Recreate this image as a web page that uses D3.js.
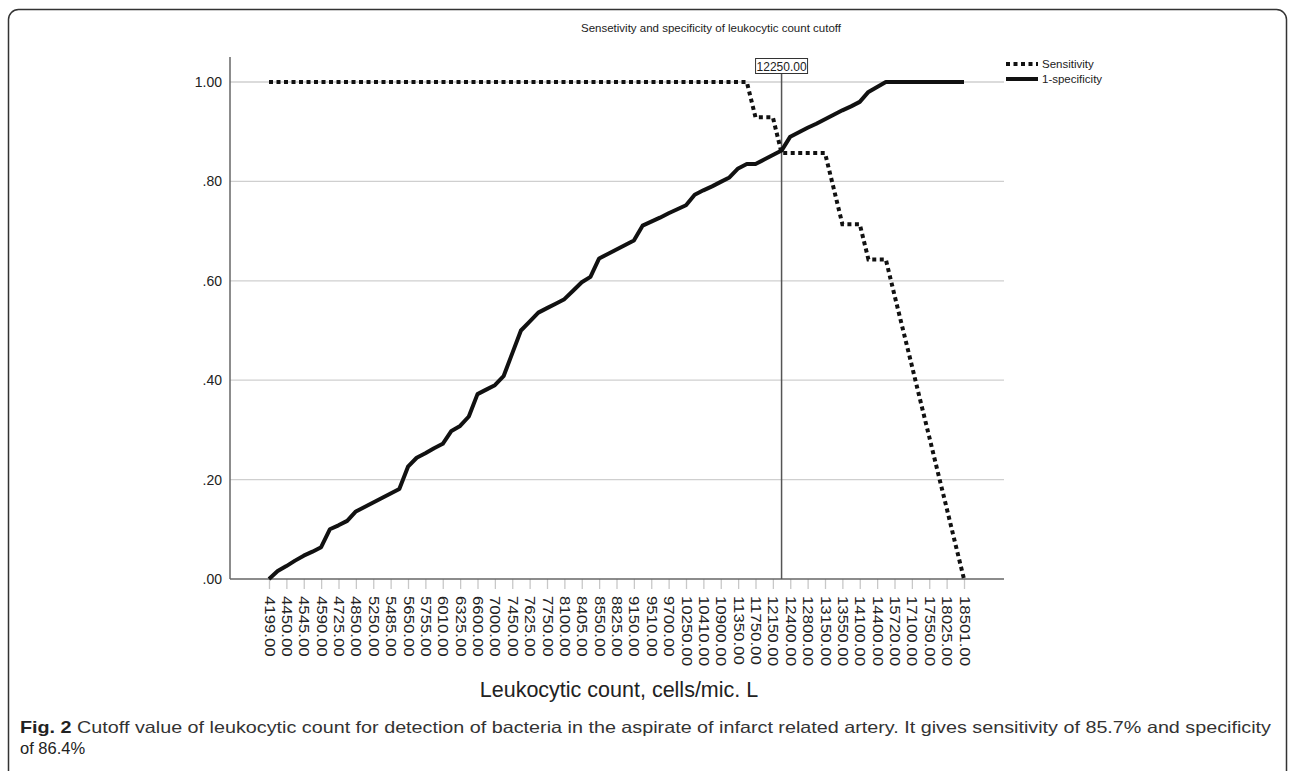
<html>
<head>
  <meta charset="utf-8">
  <script src="https://d3js.org/d3.v7.min.js"></script>
  <style>
    body { margin: 0; background: white; }
    text { font-family: "Liberation Sans", Arial, sans-serif; fill: #222; }
    .grid line { stroke: #cfcfcf; stroke-width: 1.3; }
  </style>
</head>
<body>
  <div id="chart"></div>
  <script>
    // cutoff categories (only the even ones are labelled on the axis)
    var cutoffs = ["4199.00", "4300.00", "4450.00", "4500.00", "4545.00", "4560.00", "4590.00", "4650.00",
      "4725.00", "4800.00", "4850.00", "5000.00", "5250.00", "5400.00", "5485.00", "5600.00",
      "5650.00", "5700.00", "5755.00", "5900.00", "6010.00", "6200.00", "6325.00", "6450.00",
      "6600.00", "6800.00", "7000.00", "7250.00", "7450.00", "7550.00", "7625.00", "7700.00",
      "7750.00", "7900.00", "8100.00", "8250.00", "8405.00", "8500.00", "8550.00", "8700.00",
      "8825.00", "9000.00", "9150.00", "9350.00", "9510.00", "9600.00", "9700.00", "10000.00",
      "10250.00", "10350.00", "10410.00", "10600.00", "10900.00", "11100.00", "11350.00", "11600.00",
      "11750.00", "11950.00", "12150.00", "12250.00", "12400.00", "12650.00", "12800.00", "13000.00",
      "13150.00", "13350.00", "13550.00", "13800.00", "14100.00", "14250.00", "14400.00", "15000.00",
      "15720.00", "16500.00", "17100.00", "17300.00", "17550.00", "17800.00", "18025.00", "18250.00",
      "18501.00"];

    var sensitivity = [1, 1, 1, 1, 1, 1, 1, 1, 1, 1, 1, 1, 1, 1, 1, 1, 1, 1, 1, 1,
      1, 1, 1, 1, 1, 1, 1, 1, 1, 1, 1, 1, 1, 1, 1, 1, 1, 1, 1, 1,
      1, 1, 1, 1, 1, 1, 1, 1, 1, 1, 1, 1, 1, 1, 1, 1, 0.929, 0.929, 0.929, 0.857,
      0.857, 0.857, 0.857, 0.857, 0.857, 0.786, 0.714, 0.714, 0.714, 0.643, 0.643, 0.643, 0.571, 0.5, 0.429, 0.357,
      0.286, 0.214, 0.143, 0.071, 0];

    var oneMinusSpec = [0, 0.016, 0.026, 0.037, 0.047, 0.055, 0.064, 0.10, 0.108, 0.117,
      0.136, 0.145, 0.154, 0.163, 0.172, 0.181, 0.226, 0.244, 0.253, 0.263,
      0.272, 0.298, 0.308, 0.327, 0.372, 0.381, 0.39, 0.408, 0.454, 0.50,
      0.518, 0.536, 0.545, 0.554, 0.563, 0.58, 0.597, 0.608, 0.645, 0.654,
      0.663, 0.672, 0.681, 0.711, 0.719, 0.727, 0.736, 0.744, 0.752, 0.773,
      0.782, 0.790, 0.799, 0.808, 0.826, 0.835, 0.835, 0.844, 0.853, 0.862,
      0.89, 0.899, 0.908, 0.916, 0.925, 0.934, 0.943, 0.951, 0.96, 0.98,
      0.99, 1, 1, 1, 1, 1, 1, 1, 1, 1, 1];

    var yTicks = [0, 0.2, 0.4, 0.6, 0.8, 1.0];
    var cutoffValue = "12250.00";
    var seriesNames = ["Sensitivity", "1-specificity"];

    var width = 1292, height = 771;

    var svg = d3.select("#chart").append("svg")
      .attr("width", width)
      .attr("height", height);

    // figure frame
    svg.append("rect")
      .attr("x", 8.5).attr("y", 9.5)
      .attr("width", 1278).attr("height", 790)
      .attr("rx", 10)
      .attr("fill", "none")
      .attr("stroke", "#333")
      .attr("stroke-width", 1.5);

    var x = d3.scalePoint().domain(cutoffs).range([269, 964]);
    var y = d3.scaleLinear().domain([0, 1]).range([579, 82]);
    var axisLeft = 230, axisRight = 1004, axisTop = 57;

    // gridlines
    svg.append("g").attr("class", "grid")
      .selectAll("line").data(yTicks.slice(1)).enter().append("line")
      .attr("x1", axisLeft).attr("x2", axisRight)
      .attr("y1", function (d) { return y(d); })
      .attr("y2", function (d) { return y(d); });

    // x axis
    var xAxis = svg.append("g")
      .attr("transform", "translate(0," + y(0) + ")")
      .call(d3.axisBottom(x)
        .tickValues(cutoffs.filter(function (d, i) { return i % 2 == 0; }))
        .tickSize(10).tickPadding(0));
    xAxis.select(".domain").remove();
    xAxis.selectAll(".tick line").attr("stroke", "#c8c8c8").attr("stroke-width", 1.3);
    xAxis.selectAll(".tick text")
      .attr("font-size", 14)
      .attr("text-anchor", "start")
      .attr("x", 0).attr("y", 0)
      .attr("dy", null)
      .attr("transform", "translate(-5,17) rotate(90) scale(1.2,1)")
      .attr("fill", "#222");

    svg.append("line")
      .attr("x1", axisLeft).attr("x2", axisRight)
      .attr("y1", y(0)).attr("y2", y(0))
      .attr("stroke", "#666").attr("stroke-width", 1.5);

    // y axis
    svg.append("line")
      .attr("x1", axisLeft).attr("x2", axisLeft)
      .attr("y1", axisTop).attr("y2", y(0))
      .attr("stroke", "#666").attr("stroke-width", 1.5);

    svg.append("g").selectAll("text").data(yTicks).enter().append("text")
      .attr("x", 222)
      .attr("y", function (d) { return y(d) + 5; })
      .attr("text-anchor", "end")
      .attr("font-size", 14)
      .text(function (d) { return d == 1 ? "1.00" : d3.format(".2f")(d).replace(/^0/, ""); });

    // cutoff reference line
    var cx = x(cutoffValue);
    svg.append("line")
      .attr("x1", cx).attr("x2", cx)
      .attr("y1", 73).attr("y2", y(0))
      .attr("stroke", "#555").attr("stroke-width", 1.5);
    svg.append("rect")
      .attr("x", cx - 26).attr("y", 58.5)
      .attr("width", 52).attr("height", 15)
      .attr("fill", "white").attr("stroke", "#333").attr("stroke-width", 1);
    svg.append("text")
      .attr("x", cx).attr("y", 70.5)
      .attr("text-anchor", "middle")
      .attr("font-size", 12)
      .text(cutoffValue);

    var line = d3.line()
      .x(function (d, i) { return x(cutoffs[i]); })
      .y(function (d) { return y(d); });

    svg.append("path")
      .datum(oneMinusSpec)
      .attr("d", line)
      .attr("fill", "none")
      .attr("stroke", "#111")
      .attr("stroke-width", 4)
      .attr("stroke-linejoin", "round");

    svg.append("path")
      .datum(sensitivity)
      .attr("d", line)
      .attr("fill", "none")
      .attr("stroke", "#111")
      .attr("stroke-width", 4)
      .attr("stroke-dasharray", "4,3.5");

    // title
    svg.append("text")
      .attr("x", 711).attr("y", 32)
      .attr("text-anchor", "middle")
      .attr("font-size", 11.5)
      .text("Sensetivity and specificity of leukocytic count cutoff");

    // legend
    var legend = svg.append("g").attr("transform", "translate(1006,64)");
    seriesNames.forEach(function (name, i) {
      legend.append("line")
        .attr("x1", 0).attr("x2", 32)
        .attr("y1", i * 15).attr("y2", i * 15)
        .attr("stroke", "#111").attr("stroke-width", 4)
        .attr("stroke-dasharray", i == 0 ? "4,3.5" : null);
      legend.append("text")
        .attr("x", 36).attr("y", 4 + i * 15)
        .attr("font-size", 11.5)
        .text(name);
    });

    // axis title
    svg.append("text")
      .attr("x", 619).attr("y", 697)
      .attr("text-anchor", "middle")
      .attr("font-size", 21.5)
      .text("Leukocytic count, cells/mic. L");

    // caption
    var cap1 = svg.append("text")
      .attr("x", 20).attr("y", 733)
      .attr("font-size", 16.5)
      .attr("textLength", 1251).attr("lengthAdjust", "spacingAndGlyphs");
    cap1.append("tspan").attr("font-weight", "bold").text("Fig. 2");
    cap1.append("tspan").attr("fill", "#333")
      .text(" Cutoff value of leukocytic count for detection of bacteria in the aspirate of infarct related artery. It gives sensitivity of 85.7% and specificity");
    svg.append("text")
      .attr("x", 20).attr("y", 754)
      .attr("font-size", 16.5)
      .attr("fill", "#333")
      .text("of 86.4%");
  </script>
</body>
</html>
